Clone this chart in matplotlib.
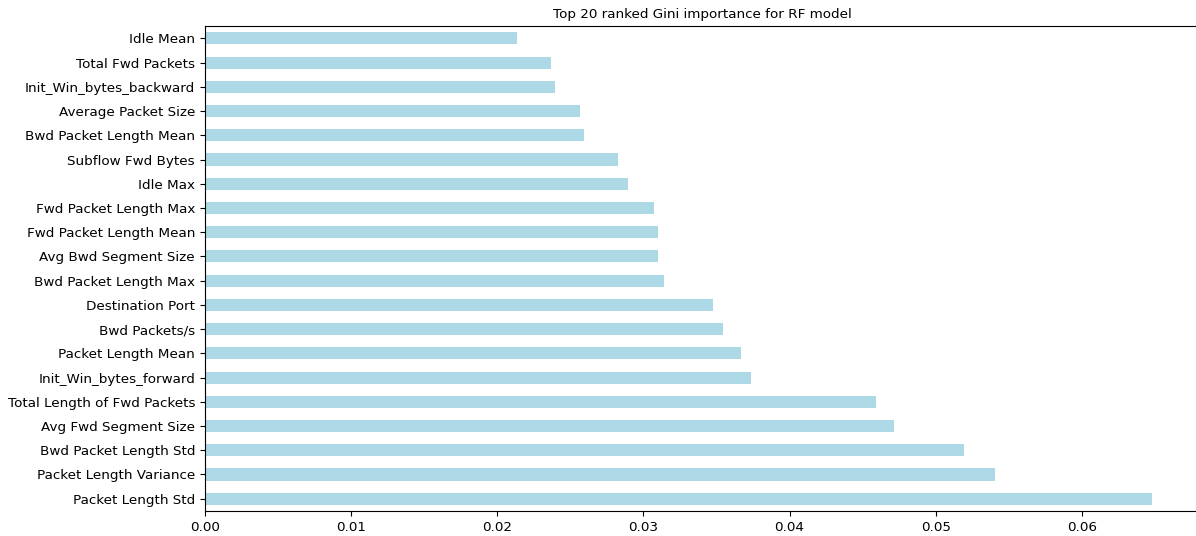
import matplotlib
matplotlib.use("Agg")
import matplotlib.pyplot as plt
import pandas as pd

# features ranked by importance (bottom to top as drawn)
features = ["Packet Length Std", "Packet Length Variance", "Bwd Packet Length Std",
            "Avg Fwd Segment Size", "Total Length of Fwd Packets", "Init_Win_bytes_forward",
            "Packet Length Mean", "Bwd Packets/s", "Destination Port",
            "Bwd Packet Length Max", "Avg Bwd Segment Size", "Fwd Packet Length Mean",
            "Fwd Packet Length Max", "Idle Max", "Subflow Fwd Bytes",
            "Bwd Packet Length Mean", "Average Packet Size", "Init_Win_bytes_backward",
            "Total Fwd Packets", "Idle Mean"]
importance = [0.0648, 0.05406, 0.05191, 0.04717, 0.0459, 0.03737,
              0.03668, 0.03545, 0.03477, 0.03141, 0.03100, 0.03100,
              0.03073, 0.02895, 0.02827, 0.02597, 0.02565, 0.02398,
              0.02366, 0.02138]

feat_imp = pd.Series(importance, index=features)

fig = plt.figure(figsize=(11.96, 5.36), dpi=100)
# right spine sits just past the image edge, as in the cropped original
ax = fig.add_axes([0.1712, 0.047, 0.8318, 0.904])
feat_imp.plot(kind="barh", color="lightblue", ax=ax)
ax.set_title("Top 20 ranked Gini importance for RF model", fontsize=9.7)
ax.tick_params(labelsize=9.7)
fig.savefig("out.png", dpi=100)
